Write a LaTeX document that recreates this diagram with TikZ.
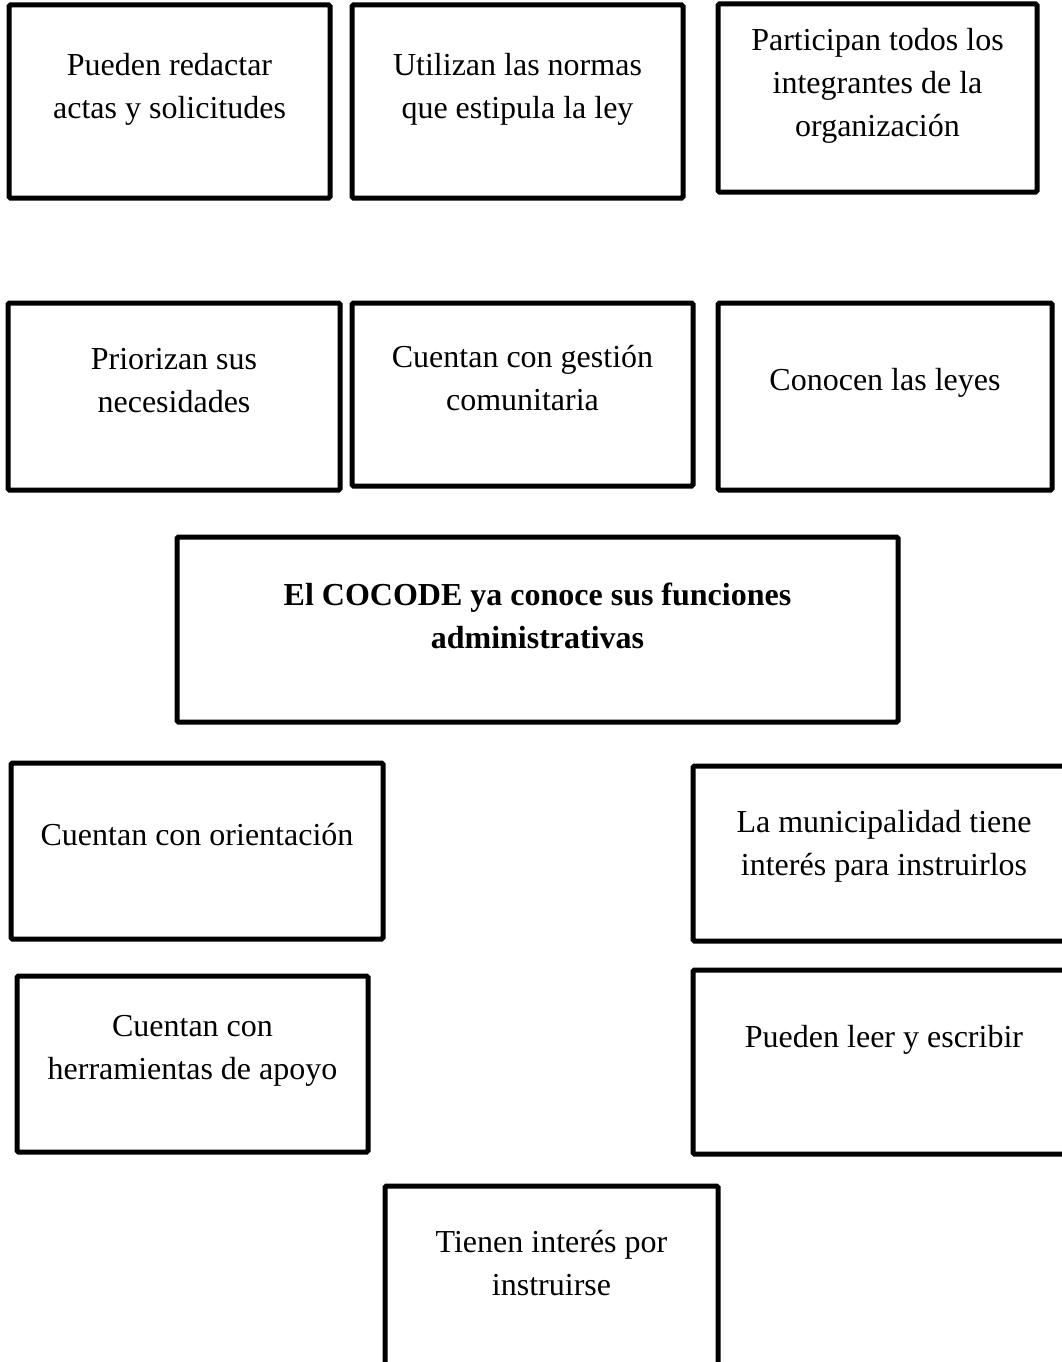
\documentclass[tikz,border=0pt]{standalone}
\usepackage{fontspec}
\setmainfont{Liberation Serif}
\usepackage{tikz}
\tikzstyle{cajon} = [
	rectangle,
	rounded corners=1.5pt,
	draw=black,
	line width=5pt,
	inner sep=0pt,
	outer sep=0pt
]
\tikzstyle{texto} = [
	anchor=north,
	inner sep=0pt,
	align=center,
	font=\fontsize{32}{43}\selectfont
]

\begin{document}
\begin{tikzpicture}[x=1pt, y=-1pt]
        \useasboundingbox (0,0) rectangle (1062,1362);
        % fila de arriba
        \node (redactar) [cajon, minimum width=321pt, minimum height=193pt,
          label={[texto, yshift=-48pt]north:{Pueden redactar\\actas y solicitudes}}]
          at (169.5,101.5) {};
        \node (normas) [cajon, minimum width=331pt, minimum height=193pt,
          label={[texto, yshift=-48pt]north:{Utilizan las normas\\que estipula la ley}}]
          at (517.5,101.5) {};
        \node (participan) [cajon, minimum width=319pt, minimum height=188pt,
          label={[texto, yshift=-24pt]north:{Participan todos los\\integrantes de la\\organizaci\'on}}]
          at (877.5,98) {};
        % segunda fila
        \node (priorizan) [cajon, minimum width=332pt, minimum height=187pt,
          label={[texto, yshift=-45pt]north:{Priorizan sus\\necesidades}}]
          at (174,396.5) {};
        \node (gestion) [cajon, minimum width=341pt, minimum height=183pt,
          label={[texto, yshift=-42pt]north:{Cuentan con gesti\'on\\comunitaria}}]
          at (522.5,394.5) {};
        \node (leyes) [cajon, minimum width=334pt, minimum height=187pt,
          label={[texto, yshift=-65pt]north:{Conocen las leyes}}]
          at (885,396.5) {};
        % problema central
        \node (cocode) [cajon, minimum width=721pt, minimum height=185pt,
          label={[texto, font=\fontsize{32}{43}\selectfont\bfseries, yshift=-46pt]north:{El COCODE ya conoce sus funciones\\administrativas}}]
          at (537.5,629.5) {};
        % abajo
        \node (orientacion) [cajon, minimum width=372pt, minimum height=176pt,
          label={[texto, yshift=-60pt]north:{Cuentan con orientaci\'on}}]
          at (197,851) {};
        \node (municipalidad) [cajon, minimum width=382pt, minimum height=175pt,
          label={[texto, yshift=-44pt]north:{La municipalidad tiene\\inter\'es para instruirlos}}]
          at (884,853.5) {};
        \node (herramientas) [cajon, minimum width=351pt, minimum height=176pt,
          label={[texto, yshift=-39pt]north:{Cuentan con\\herramientas de apoyo}}]
          at (192.5,1064) {};
        \node (leer) [cajon, minimum width=382pt, minimum height=184pt,
          label={[texto, yshift=-55pt]north:{Pueden leer y escribir}}]
          at (884,1062) {};
        \node (instruirse) [cajon, minimum width=333pt, minimum height=194pt,
          label={[texto, yshift=-44pt]north:{Tienen inter\'es por\\instruirse}}]
          at (551.5,1283) {};
      \end{tikzpicture}
\end{document}
